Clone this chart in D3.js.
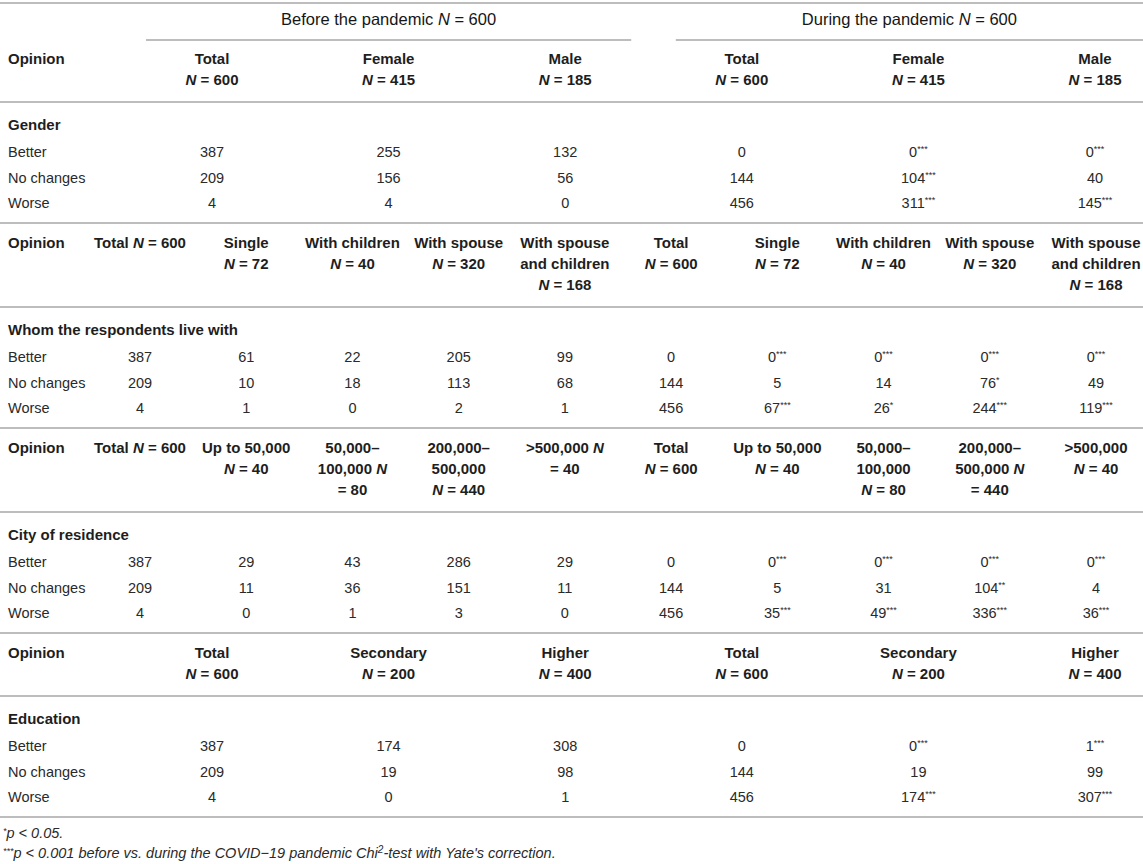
<!DOCTYPE html>
<meta charset="utf-8">
<head>
    <title>Opinion before and during the pandemic</title>
    <script src="https://d3js.org/d3.v7.min.js"></script>
    <style>
        body { margin: 0; background: #fff; }
        text { font-family: "Liberation Sans", Arial, sans-serif; fill: #1e1e1e; }
        .head { font-weight: bold; font-size: 15px; }
        .span { font-size: 16.5px; fill: #161616; }
        .cell { font-size: 14.5px; fill: #2a2a2a; }
        .note { font-size: 14.5px; font-style: italic; fill: #2a2a2a; }
        .rule { stroke: #bdbdbd; stroke-width: 2; }
    </style>
</head>
<body>
<svg width="1143" height="864"></svg>
<script>

    var opinions = ["Better", "No changes", "Worse"];
    var spanners = ["Before the pandemic N = 600", "During the pandemic N = 600"];

    // gender
    var genderHead = ["Total\nN = 600", "Female\nN = 415", "Male\nN = 185"];
    var genderBefore = [[387, 255, 132], [209, 156, 56], [4, 4, 0]];
    var genderDuring = [[0, 0, 0], [144, 104, 40], [456, 311, 145]];
    var genderSig = [["", "***", "***"], ["", "***", ""], ["", "***", "***"]];

    // whom the respondents live with
    var liveHeadBefore = ["Total N = 600", "Single\nN = 72", "With children\nN = 40", "With spouse\nN = 320", "With spouse\nand children\nN = 168"];
    var liveHeadDuring = ["Total\nN = 600", "Single\nN = 72", "With children\nN = 40", "With spouse\nN = 320", "With spouse\nand children\nN = 168"];
    var liveBefore = [[387, 61, 22, 205, 99], [209, 10, 18, 113, 68], [4, 1, 0, 2, 1]];
    var liveDuring = [[0, 0, 0, 0, 0], [144, 5, 14, 76, 49], [456, 67, 26, 244, 119]];
    var liveSig = [["", "***", "***", "***", "***"], ["", "", "", "*", ""], ["", "***", "*", "***", "***"]];

    // city of residence
    var cityHeadBefore = ["Total N = 600", "Up to 50,000\nN = 40", "50,000–\n100,000 N\n= 80", "200,000–\n500,000\nN = 440", ">500,000 N\n= 40"];
    var cityHeadDuring = ["Total\nN = 600", "Up to 50,000\nN = 40", "50,000–\n100,000\nN = 80", "200,000–\n500,000 N\n= 440", ">500,000\nN = 40"];
    var cityBefore = [[387, 29, 43, 286, 29], [209, 11, 36, 151, 11], [4, 0, 1, 3, 0]];
    var cityDuring = [[0, 0, 0, 0, 0], [144, 5, 31, 104, 4], [456, 35, 49, 336, 36]];
    var citySig = [["", "***", "***", "***", "***"], ["", "", "", "**", ""], ["", "***", "***", "***", "***"]];

    // education
    var eduHead = ["Total\nN = 600", "Secondary\nN = 200", "Higher\nN = 400"];
    var eduBefore = [[387, 174, 308], [209, 19, 98], [4, 0, 1]];
    var eduDuring = [[0, 0, 1], [144, 19, 99], [456, 174, 307]];
    var eduSig = [["", "***", "***"], ["", "", ""], ["", "***", "***"]];

    var notes = ["*p < 0.05.", "***p < 0.001 before vs. during the COVID−19 pandemic Chi^2-test with Yate's correction."];

    var blocks = [
        { label: "Gender", head: genderHead.concat(genderHead), before: genderBefore, during: genderDuring, sig: genderSig, spanner: true },
        { label: "Whom the respondents live with", head: liveHeadBefore.concat(liveHeadDuring), before: liveBefore, during: liveDuring, sig: liveSig },
        { label: "City of residence", head: cityHeadBefore.concat(cityHeadDuring), before: cityBefore, during: cityDuring, sig: citySig },
        { label: "Education", head: eduHead.concat(eduHead), before: eduBefore, during: eduDuring, sig: eduSig }
    ];

    var svg = d3.select("svg"),
        width = +svg.attr("width"),
        g = svg.append("g");

    var lineH = 21,   // header line spacing
        base = 5;     // text centre -> baseline

    // writes a string with an italic stand-alone N
    function rich(sel, str) {
        str.split(/(\bN\b)/).forEach(function (part) {
            if (!part) return;
            var t = sel.append("tspan").text(part);
            if (part === "N") t.style("font-style", "italic");
        });
    }

    function rule(x1, x2, y) {
        g.append("line").attr("class", "rule")
            .attr("x1", x1).attr("x2", x2).attr("y1", y).attr("y2", y);
    }

    var y = 3;
    rule(0, width, y);

    blocks.forEach(function (b) {
        var n = b.before[0].length;
        var x = d3.scalePoint()
            .domain(d3.range(n * 2))
            .range(n === 3 ? [212, 1095] : [140, 1096]);

        if (b.spanner) {
            [0, 1].forEach(function (k) {
                var x1 = x(k * n) - 66,
                    x2 = Math.min(x(k * n + n - 1) + 66, width);
                var t = g.append("text").attr("class", "span")
                    .attr("text-anchor", "middle")
                    .attr("x", (x1 + x2) / 2)
                    .attr("y", y + 17 + base);
                rich(t, spanners[k]);
                rule(x1, x2, y + 37);
            });
            y += 56;
        } else {
            y += 20;
        }

        // header
        g.append("text").attr("class", "head")
            .attr("x", 8).attr("y", y + base).text("Opinion");

        var maxLines = d3.max(b.head, function (h) { return h.split("\n").length; });
        b.head.forEach(function (h, i) {
            var t = g.append("text").attr("class", "head").attr("text-anchor", "middle");
            h.split("\n").forEach(function (line, j) {
                rich(t.append("tspan").attr("x", x(i)).attr("y", y + j * lineH + base), line);
            });
        });

        y += (maxLines - 1) * lineH + 22;
        rule(0, width, y);

        g.append("text").attr("class", "head")
            .attr("x", 8).attr("y", y + 23 + base).text(b.label);

        var ry = d3.scalePoint().domain(opinions).range([y + 50, y + 101]);

        opinions.forEach(function (op, r) {
            g.append("text").attr("class", "cell")
                .attr("x", 8).attr("y", ry(op) + base).text(op);

            b.before[r].forEach(function (v, i) {
                g.append("text").attr("class", "cell")
                    .attr("text-anchor", "middle")
                    .attr("x", x(i)).attr("y", ry(op) + base)
                    .text(v);
            });

            b.during[r].forEach(function (v, i) {
                var t = g.append("text").attr("class", "cell")
                    .attr("text-anchor", "middle")
                    .attr("x", x(n + i)).attr("y", ry(op) + base);
                t.append("tspan").text(v);
                if (b.sig[r][i]) {
                    t.append("tspan").attr("dy", -5).style("font-size", "9px").text(b.sig[r][i]);
                }
            });
        });

        y = ry(opinions[2]) + 20;
        rule(0, width, y);
    });

    // footnotes
    notes.forEach(function (note, k) {
        var t = g.append("text").attr("class", "note")
            .attr("x", 3).attr("y", y + 16 + k * 20 + base);
        var m = note.match(/^(\*+)(.*)$/);
        t.append("tspan").attr("dy", -4).style("font-size", "9px").text(m[1]);
        var rest = m[2].split("^");
        t.append("tspan").attr("dy", 4).text(rest[0]);
        if (rest.length > 1) {
            t.append("tspan").attr("dy", -5).style("font-size", "10px").text(rest[1].charAt(0));
            t.append("tspan").attr("dy", 5).text(rest[1].slice(1));
        }
    });

</script>
</body>
